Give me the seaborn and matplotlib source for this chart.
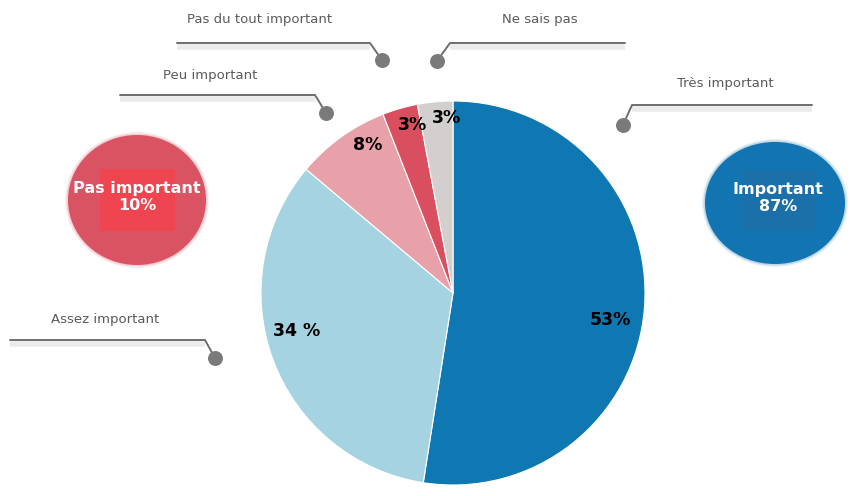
import matplotlib
matplotlib.use("Agg")
import matplotlib.pyplot as plt
from matplotlib.patches import Ellipse, Rectangle
import numpy as np
import seaborn as sns

# ---- data ----
categories = ["Très important", "Assez important", "Peu important",
              "Pas du tout important", "Ne sais pas"]
values = [53, 34, 8, 3, 3]
pct_labels = ["53%", "34 %", "8%", "3%", "3%"]
summary_labels = ["Pas important", "Important"]
summary_values = [10, 87]

colors = ["#0f77b2", "#a6d3e2", "#e9a1a9", "#d94f5f", "#d3cfcf"]

sns.set_theme(style="white")
plt.rcParams["font.family"] = ["DejaVu Sans"]

W, H = 850, 496
fig = plt.figure(figsize=(W / 100, H / 100), dpi=100)
ax = fig.add_axes([0, 0, 1, 1])


def P(x, y):
    return x, H - y


cx, cy = P(453, 293)
R = 192
wedges, _ = ax.pie(values, colors=colors, startangle=90, counterclock=False,
                   center=(cx, cy), radius=R,
                   wedgeprops=dict(edgecolor="white", linewidth=0.8))

# percent labels inside slices (radial factor, clockwise angle shift)
rfac = [0.83, 0.84, 0.89, 0.90, 0.91]
shift = [5.3, 7.0, 5.7, 2.6, 3.3]
for w, lab, f, s in zip(wedges, pct_labels, rfac, shift):
    th = np.deg2rad((w.theta1 + w.theta2) / 2 - s)
    ax.text(cx + f * R * np.cos(th), cy + f * R * np.sin(th), lab,
            ha="center", va="center", fontsize=12.5, fontweight="bold",
            color="black", zorder=5)

# leader lines with labels
leaders = {
    "Pas du tout important": dict(text=(260, 20), line=[(177, 43), (370, 43), (382, 60)]),
    "Peu important": dict(text=(210, 75), line=[(120, 95), (315, 95), (326, 113)]),
    "Ne sais pas": dict(text=(540, 20), line=[(625, 43), (450, 43), (437, 61)]),
    "Très important": dict(text=(725, 83), line=[(812, 105), (632, 105), (623, 125)]),
    "Assez important": dict(text=(105, 320), line=[(10, 340), (205, 340), (215, 358)]),
}
for cat in categories:
    d = leaders[cat]
    pts = [P(*p) for p in d["line"]]
    xs = [p[0] for p in pts]
    ys = [p[1] for p in pts]
    ax.plot(xs[:2], [y - 4 for y in ys[:2]], color="#ebebeb", lw=4,
            solid_capstyle="butt", zorder=1)
    ax.plot(xs, ys, color="#6e6e6e", lw=1.4, zorder=2)
    ax.scatter([xs[-1]], [ys[-1]], s=95, color="#7a7a7a", zorder=3)
    tx, ty = P(*d["text"])
    ax.text(tx, ty, cat, ha="center", va="center", fontsize=9.5,
            color="#5a5a5a", zorder=3)

# summary circles
summ = [
    dict(c=(137, 200), t=(137, 197), w=138, h=130, col="#da5363",
         rect=(100, 169, 75, 62), rcol="#ee4550"),
    dict(c=(775, 203), t=(778, 198), w=140, h=122, col="#1274b0",
         rect=(743, 170, 72, 60), rcol="#1b70aa"),
]
for s, lab, v in zip(summ, summary_labels, summary_values):
    ex, ey = P(*s["c"])
    for k, a in enumerate([0.25, 0.5]):
        ax.add_patch(Ellipse((ex, ey), s["w"] + 6 - 3 * k, s["h"] + 6 - 3 * k,
                             color=s["col"], alpha=a * 0.4, lw=0, zorder=1))
    ax.add_patch(Ellipse((ex, ey), s["w"], s["h"], color=s["col"], lw=0, zorder=2))
    rx, ry, rw, rh = s["rect"]
    ax.add_patch(Rectangle(P(rx, ry + rh), rw, rh, color=s["rcol"], lw=0, zorder=3))
    tx, ty = P(*s["t"])
    ax.text(tx, ty, f"{lab}\n{v}%", ha="center", va="center", fontsize=11.5,
            fontweight="bold", color="white", linespacing=1.2, zorder=4)

ax.set_xlim(0, W)
ax.set_ylim(0, H)
ax.set_aspect("equal")
ax.axis("off")
fig.savefig("out.png", dpi=100, facecolor="white")
